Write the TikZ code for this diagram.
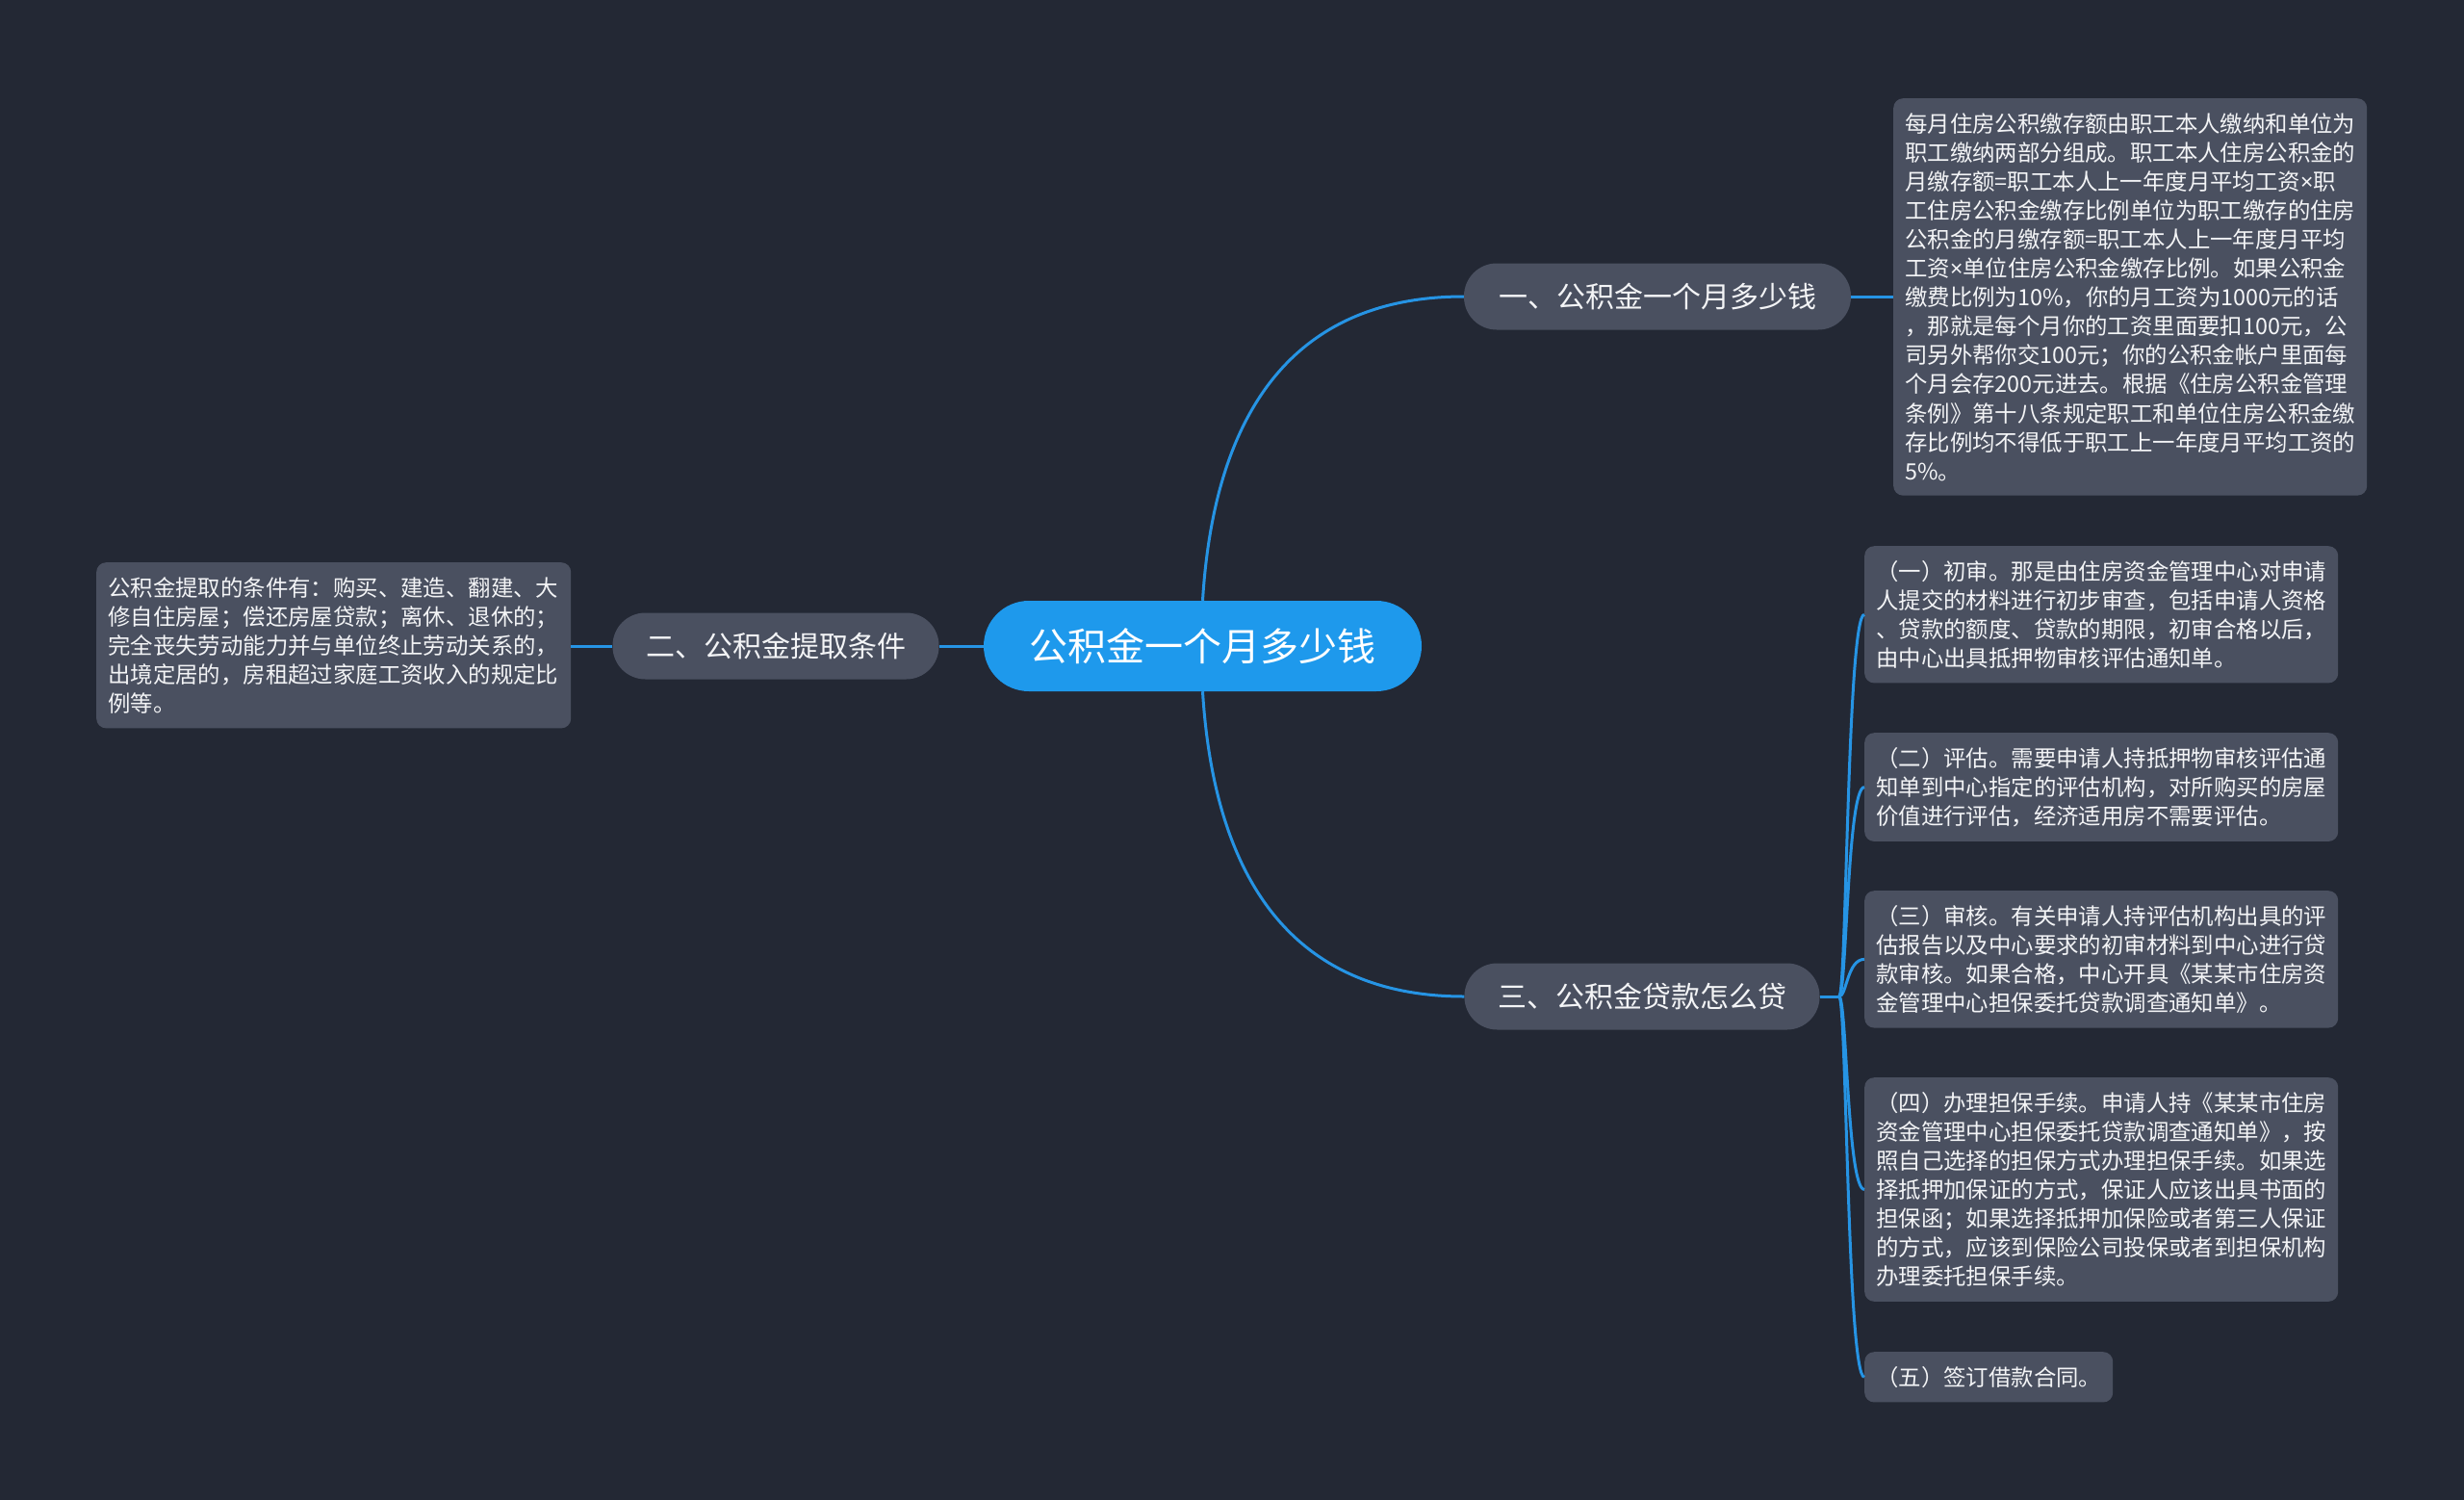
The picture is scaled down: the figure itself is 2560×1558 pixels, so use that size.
\documentclass[tikz,border=0pt]{standalone}
\usepackage{fontspec}
\setmainfont{Noto Sans CJK SC}
\newfontfamily\latinfont{Noto Sans}
\newcommand{\mulsign}{{\latinfont ×}}
\usetikzlibrary{calc}
\definecolor{bgcol}{HTML}{232834}
\definecolor{boxcol}{HTML}{4A5060}
\definecolor{rootcol}{HTML}{1E99EC}
\definecolor{linecol}{HTML}{2694E4}
\definecolor{txtcol}{HTML}{F3F4F6}
\tikzset{
  topic/.style={fill=boxcol,text=txtcol,rounded corners=34pt,inner sep=0pt,
    minimum height=69pt,font=\fontsize{30}{36}\selectfont},
  note/.style={fill=boxcol,text=txtcol,rounded corners=10pt,align=left,
    anchor=north west,inner xsep=12pt,inner ysep=15pt,
    font=\fontsize{23.4}{30.1}\selectfont},
  link/.style={draw=linecol,line width=3pt}
}

\begin{document}
\begin{tikzpicture}[x=1pt,y=-1pt]
\useasboundingbox (0,0) rectangle (2560,1558);
\fill[bgcol] (0,0) rectangle (2560,1558);

\node[fill=rootcol,text=white,rounded corners=47pt,inner sep=0pt,
  minimum width=455pt,minimum height=94pt,font=\fontsize{40}{48}\selectfont]
  (root) at (1249.5,671) {公积金一个月多少钱};
\node[topic,minimum width=402pt] (one) at (1722,308) {一、公积金一个月多少钱};
\node[topic,minimum width=339pt] (two) at (806,671) {二、公积金提取条件};
\node[topic,minimum width=369pt] (three) at (1706,1035) {三、公积金贷款怎么贷};

\node[note,text width=468pt] (txtone) at (1967,102) {每月住房公积缴存额由职工本人缴纳和单位为\\
职工缴纳两部分组成。职工本人住房公积金的\\
月缴存额=职工本人上一年度月平均工资\mulsign 职\\
工住房公积金缴存比例单位为职工缴存的住房\\
公积金的月缴存额=职工本人上一年度月平均\\
工资\mulsign 单位住房公积金缴存比例。如果公积金\\
缴费比例为10\%，你的月工资为1000元的话\\
，那就是每个月你的工资里面要扣100元，公\\
司另外帮你交100元；你的公积金帐户里面每\\
个月会存200元进去。根据《住房公积金管理\\
条例》第十八条规定职工和单位住房公积金缴\\
存比例均不得低于职工上一年度月平均工资的\\
5\%。};
\node[note,text width=469pt] (txttwo) at (100,584) {公积金提取的条件有：购买、建造、翻建、大\\
修自住房屋；偿还房屋贷款；离休、退休的；\\
完全丧失劳动能力并与单位终止劳动关系的，\\
出境定居的，房租超过家庭工资收入的规定比\\
例等。};

\node[note,text width=468pt] (s1) at (1937,567) {（一）初审。那是由住房资金管理中心对申请\\
人提交的材料进行初步审查，包括申请人资格\\
、贷款的额度、贷款的期限，初审合格以后，\\
由中心出具抵押物审核评估通知单。};
\node[note,text width=468pt] (s2) at (1937,761) {（二）评估。需要申请人持抵押物审核评估通\\
知单到中心指定的评估机构，对所购买的房屋\\
价值进行评估，经济适用房不需要评估。};
\node[note,text width=468pt] (s3) at (1937,925) {（三）审核。有关申请人持评估机构出具的评\\
估报告以及中心要求的初审材料到中心进行贷\\
款审核。如果合格，中心开具《某某市住房资\\
金管理中心担保委托贷款调查通知单》。};
\node[note,text width=468pt] (s4) at (1937,1119) {（四）办理担保手续。申请人持《某某市住房\\
资金管理中心担保委托贷款调查通知单》，按\\
照自己选择的担保方式办理担保手续。如果选\\
择抵押加保证的方式，保证人应该出具书面的\\
担保函；如果选择抵押加保险或者第三人保证\\
的方式，应该到保险公司投保或者到担保机构\\
办理委托担保手续。};
\node[note] (s5) at (1937,1404) {（五）签订借款合同。};

\draw[link] (root.north) .. controls (1262,420) and (1350,308) .. (one.west);
\draw[link] (root.south) .. controls (1262,922) and (1350,1035) .. (three.west);
\draw[link] (root.west) -- (two.east);
\draw[link] (two.west) -- (two.west -| txttwo.east);
\draw[link] (one.east) -- (one.east -| txtone.west);

\coordinate (hub) at ($(three.east)+(20,0)$);
\draw[link] (three.east) -- (hub);
\foreach \s in {s1,s2,s3,s4,s5}
  \draw[link] (hub) .. controls ($(hub)+(8,0)$) and ($(\s.west)+(-18,0)$) .. (\s.west);
\end{tikzpicture}
\end{document}
